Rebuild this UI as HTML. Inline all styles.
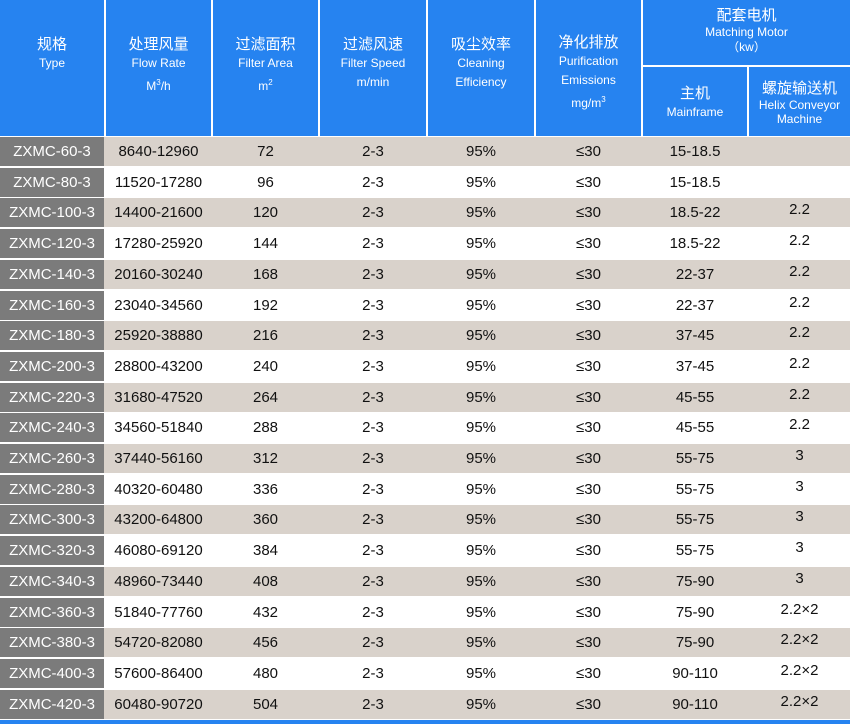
<!DOCTYPE html>
<html><head><meta charset="utf-8">
<style>
body{margin:0;width:850px;height:724px;position:relative;background:#fff;overflow:hidden;font-family:"Liberation Sans","Noto Sans CJK SC",sans-serif;}
.h{position:absolute;background:#2683f0;color:#fff;text-align:center;box-sizing:border-box;}
.h .c{font-size:15px;line-height:18px;}
.h .e{font-size:12px;line-height:19px;}
.r{position:absolute;left:0;width:850px;height:29px;}
.r div{position:absolute;top:0;height:29px;line-height:29px;text-align:center;font-size:15px;color:#111;}
.r .t{left:0;width:104px;background:#7b7b7b;color:#fff;}
.b{background:#d9d2cb;}
sup{font-size:8px;}
</style></head><body>
<div class="h" style="left:0;top:0;width:104px;height:136px;padding-top:36px"><div class="c">规格</div><div class="e">Type</div></div>
<div class="h" style="left:106px;top:0;width:105px;height:136px;padding-top:36px"><div class="c">处理风量</div><div class="e">Flow Rate</div><div class="e">M<sup>3</sup>/h</div></div>
<div class="h" style="left:213px;top:0;width:105px;height:136px;padding-top:36px"><div class="c">过滤面积</div><div class="e">Filter Area</div><div class="e">m<sup>2</sup></div></div>
<div class="h" style="left:320px;top:0;width:106px;height:136px;padding-top:36px"><div class="c">过滤风速</div><div class="e">Filter Speed</div><div class="e">m/min</div></div>
<div class="h" style="left:428px;top:0;width:106px;height:136px;padding-top:36px"><div class="c">吸尘效率</div><div class="e">Cleaning</div><div class="e">Efficiency</div></div>
<div class="h" style="left:536px;top:0;width:105px;height:136px;padding-top:34px"><div class="c">净化排放</div><div class="e">Purification</div><div class="e">Emissions</div><div class="e">mg/m<sup>3</sup></div></div>
<div class="h" style="left:643px;top:0;width:207px;height:65px;padding-top:7px"><div class="c">配套电机</div><div class="e" style="line-height:15px">Matching Motor</div><div class="e" style="line-height:15px">（kw）</div></div>
<div class="h" style="left:643px;top:67px;width:104px;height:69px;padding-top:18px"><div class="c">主机</div><div class="e">Mainframe</div></div>
<div class="h" style="left:749px;top:67px;width:101px;height:69px;padding-top:13px"><div class="c">螺旋输送机</div><div class="e" style="line-height:14px">Helix Conveyor</div><div class="e" style="line-height:14px">Machine</div></div>
<div id="rows"></div>
<div style="position:absolute;left:0;top:720px;width:850px;height:4px;background:#2683f0"></div>
<script>
var d=[["60","8640-12960","72","15-18.5",""],["80","11520-17280","96","15-18.5",""],["100","14400-21600","120","18.5-22","2.2"],["120","17280-25920","144","18.5-22","2.2"],["140","20160-30240","168","22-37","2.2"],["160","23040-34560","192","22-37","2.2"],["180","25920-38880","216","37-45","2.2"],["200","28800-43200","240","37-45","2.2"],["220","31680-47520","264","45-55","2.2"],["240","34560-51840","288","45-55","2.2"],["260","37440-56160","312","55-75","3"],["280","40320-60480","336","55-75","3"],["300","43200-64800","360","55-75","3"],["320","46080-69120","384","55-75","3"],["340","48960-73440","408","75-90","3"],["360","51840-77760","432","75-90","2.2×2"],["380","54720-82080","456","75-90","2.2×2"],["400","57600-86400","480","90-110","2.2×2"],["420","60480-90720","504","90-110","2.2×2"]];
var h="";
d.forEach(function(r,i){var top=137+i*30.7;h+='<div class="r'+(i%2==0?' b':'')+'" style="top:'+top+'px"><div class="t">ZXMC-'+r[0]+'-3</div><div style="left:106px;width:105px">'+r[1]+'</div><div style="left:213px;width:105px">'+r[2]+'</div><div style="left:320px;width:106px">2-3</div><div style="left:428px;width:106px">95%</div><div style="left:536px;width:105px">≤30</div><div style="left:643px;width:104px">'+r[3]+'</div><div style="left:749px;width:101px;top:-3px">'+r[4]+'</div></div>';});
document.getElementById("rows").innerHTML=h;
</script>
</body></html>
